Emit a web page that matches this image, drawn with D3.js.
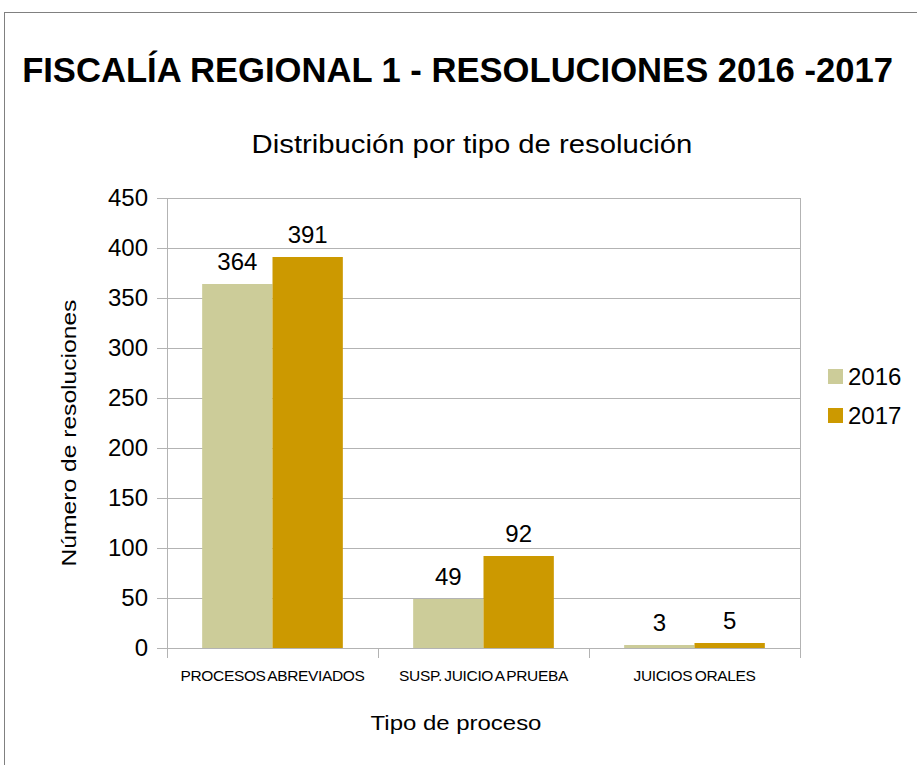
<!DOCTYPE html>
<html><head><meta charset="utf-8">
<script src="https://cdn.jsdelivr.net/npm/d3@7"></script>
<style>body{margin:0;background:#fff}svg{display:block;font-family:"Liberation Sans",Arial,sans-serif}</style>
</head><body><svg id="c" width="917" height="765"></svg>
<script>
const categories = ["PROCESOS ABREVIADOS","SUSP. JUICIO A PRUEBA","JUICIOS ORALES"];
const series = ["2016","2017"];
const values2016 = [364, 49, 3];
const values2017 = [391, 92, 5];
const yTicks = [0,50,100,150,200,250,300,350,400,450];
const colors = ["#cccc99","#cc9900"];
const title = "FISCALÍA REGIONAL 1 - RESOLUCIONES 2016 -2017";
const subtitle = "Distribución por tipo de resolución";
const xTitle = "Tipo de proceso";
const yTitle = "Número de resoluciones";

const svg = d3.select("#c");
svg.append("rect").attr("x",4.5).attr("y",12.5).attr("width",930).attr("height",800)
  .attr("fill","#fff").attr("stroke","#808080").attr("stroke-width",1);

const L=167, R=800, T=198, B=648;
const x = d3.scaleBand().domain(categories).range([L,R]).paddingInner(0).paddingOuter(0);
const xs = d3.scaleBand().domain(series).range([0,x.bandwidth()]).paddingInner(0).paddingOuter(0.5);
const y = d3.scaleLinear().domain([0,450]).range([B,T]);

const grid = svg.append("g");
grid.selectAll("line").data(yTicks).join("line")
  .attr("x1",L-10).attr("x2",R).attr("y1",d=>y(d)+0.5).attr("y2",d=>y(d)+0.5)
  .attr("stroke","#b3b3b3").attr("stroke-width",1);
svg.append("line").attr("x1",L+0.5).attr("x2",L+0.5).attr("y1",T).attr("y2",B+10).attr("stroke","#b3b3b3");
svg.append("line").attr("x1",R+0.5).attr("x2",R+0.5).attr("y1",T).attr("y2",B+10).attr("stroke","#b3b3b3");
const bounds = categories.map(c=>x(c)).slice(1);
svg.append("g").selectAll("line").data(bounds).join("line")
  .attr("x1",d=>Math.round(d)+0.5).attr("x2",d=>Math.round(d)+0.5).attr("y1",B).attr("y2",B+10).attr("stroke","#b3b3b3");

svg.append("g").selectAll("text").data(yTicks).join("text")
  .attr("x",148).attr("y",d=>y(d)).attr("dy","0.35em").attr("text-anchor","end")
  .attr("font-size",24).attr("fill","#000").text(d=>d);

const data = categories.map((c,i)=>({c, vals:[values2016[i], values2017[i]]}));
const gBars = svg.append("g");
data.forEach(d=>{
  series.forEach((s,j)=>{
    const v = d.vals[j];
    const x0 = x(d.c)+xs(s);
    gBars.append("rect").attr("x",x0).attr("width",xs.bandwidth())
      .attr("y",y(v)).attr("height",y(0)-y(v)).attr("fill",colors[j]);
    gBars.append("text").attr("x",x0+xs.bandwidth()/2).attr("y",y(v)-14)
      .attr("text-anchor","middle").attr("font-size",24).attr("fill","#000").text(v);
  });
});
svg.append("line").attr("x1",L-10).attr("x2",R).attr("y1",B+0.5).attr("y2",B+0.5).attr("stroke","#b3b3b3");

svg.append("g").selectAll("text").data(categories).join("text")
  .attr("x",d=>x(d)+x.bandwidth()/2).attr("y",681).attr("text-anchor","middle")
  .attr("font-size",15.5).attr("word-spacing","-1.5").attr("letter-spacing","-0.35").attr("fill","#000").text(d=>d);

function fitText(str, cx, cy, size, width, weight, rotate) {
  const g = svg.append("g").attr("transform", `translate(${cx},${cy})` + (rotate ? " rotate(-90)" : ""));
  const t = g.append("text").attr("text-anchor","middle").attr("font-size",size)
    .attr("font-weight",weight||"normal").attr("fill","#000").text(str);
  const w = t.node().getComputedTextLength();
  t.attr("transform", `scale(${width/w},1)`);
}
fitText(title, 457.5, 82, 36, 871, "bold");
fitText(subtitle, 472, 153, 26, 441);
fitText(xTitle, 456, 730, 21, 171);
fitText(yTitle, 76, 433, 21, 267, "normal", true);

const lg = svg.append("g");
series.forEach((s,j)=>{
  lg.append("rect").attr("x",828).attr("y",369+j*39).attr("width",15).attr("height",15).attr("fill",colors[j]);
  lg.append("text").attr("x",848).attr("y",385+j*39).attr("font-size",24).attr("fill","#000").text(s);
});
</script></body></html>
